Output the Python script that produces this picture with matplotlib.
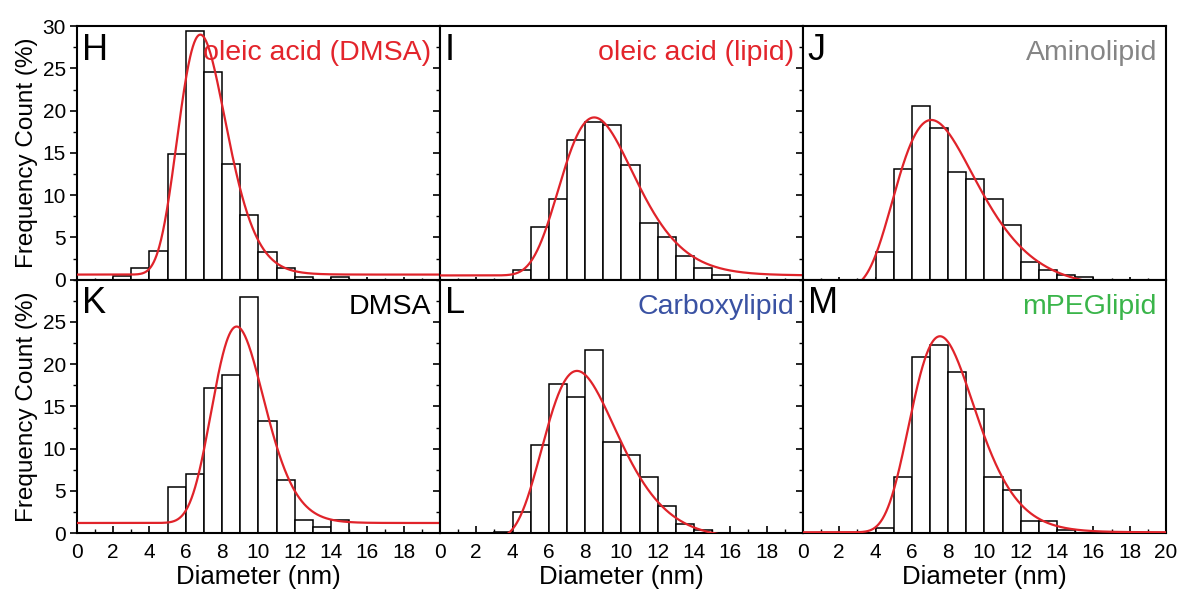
import numpy as np
import matplotlib
matplotlib.use('Agg')
import matplotlib.pyplot as plt
from matplotlib.ticker import MultipleLocator

plt.rcParams['font.family'] = ['Liberation Sans', 'DejaVu Sans']

# ------------------------------------------------------------------ #
#   histogram data: frequency count (%) per 1 nm bin, bins 0-1 ... 19-20
# ------------------------------------------------------------------ #

bin_left = np.arange(0, 20)

H_counts = [0, 0, 0.4, 1.4, 3.4, 14.9, 29.4, 24.6, 13.7, 7.6, 3.3, 1.4, 0.3, 0, 0.3, 0, 0, 0, 0, 0]
I_counts = [0, 0, 0, 0, 1.2, 6.2, 9.5, 16.5, 18.6, 18.3, 13.6, 6.7, 5.1, 2.8, 1.4, 0.5, 0, 0, 0, 0]
J_counts = [0, 0, 0, 0, 3.3, 13.1, 20.6, 17.9, 12.8, 11.9, 9.5, 6.5, 2.1, 1.2, 0.6, 0.3, 0, 0, 0, 0]
K_counts = [0, 0, 0, 0, 0, 5.5, 7.0, 17.2, 18.75, 28.0, 13.25, 6.25, 1.5, 0.75, 1.6, 0, 0, 0, 0, 0]
L_counts = [0, 0, 0, 0.15, 2.5, 10.4, 17.6, 16.1, 21.7, 10.8, 9.3, 6.7, 3.2, 1.1, 0.4, 0, 0, 0, 0, 0]
M_counts = [0, 0, 0, 0, 0.65, 6.6, 20.9, 22.3, 19.1, 14.7, 6.6, 5.1, 1.4, 1.4, 0.4, 0, 0, 0, 0, 0]

# log-normal fit parameters: centre, height, width, offset
fit_xc = [6.8, 8.5, 7.07, 8.8, 7.55, 7.55]
fit_amp = [28.4, 18.7, 19.9, 23.25, 19.9, 23.2]
fit_w = [0.195, 0.24, 0.315, 0.163, 0.267, 0.235]
fit_y0 = [0.6, 0.5, -1.0, 1.2, -0.7, 0.1]

letters = ['H', 'I', 'J', 'K', 'L', 'M']
names = ['oleic acid (DMSA)', 'oleic acid (lipid)', 'Aminolipid', 'DMSA', 'Carboxylipid', 'mPEGlipid']
name_colors = ['#e3242b', '#e3242b', '#858585', 'black', '#3a52a3', '#3ab54a']

all_counts = [H_counts, I_counts, J_counts, K_counts, L_counts, M_counts]

# ------------------------------------------------------------------ #
#                          the figure                                 #
# ------------------------------------------------------------------ #

fig, axes = plt.subplots(2, 3, figsize=(11.83, 5.95), dpi=100)
fig.subplots_adjust(left=0.065, right=0.9856, top=0.956, bottom=0.104, wspace=0, hspace=0)

xs = np.linspace(0.01, 20, 800)

for k, ax in enumerate(axes.flat):
    row, col = divmod(k, 3)
    counts = np.array(all_counts[k])
    keep = counts > 0
    ax.bar(bin_left[keep], counts[keep], width=1, align='edge', color='white',
           edgecolor='black', lw=1.1, zorder=2)

    fit = fit_y0[k] + fit_amp[k] * np.exp(-np.log(xs / fit_xc[k])**2 / (2 * fit_w[k]**2))
    ax.plot(xs, fit, color='#e0232a', lw=1.6, zorder=3)

    ax.set_xlim(0, 20)
    ax.set_ylim(0, 30)

    ax.text(0.013, 0.975, letters[k], transform=ax.transAxes, ha='left', va='top',
            fontsize=26, color='black')
    ax.text(0.975, 0.945, names[k], transform=ax.transAxes, ha='right', va='top',
            fontsize=20.5, color=name_colors[k])

    for s in ax.spines.values():
        s.set_linewidth(1.5)
    ax.xaxis.set_major_locator(MultipleLocator(2))
    ax.xaxis.set_minor_locator(MultipleLocator(1))
    if row == 0:
        ax.set_yticks(np.arange(0, 31, 5))
        ax.tick_params(axis='x', which='both', direction='inout', labelbottom=False)
    else:
        ax.set_yticks(np.arange(0, 26, 5))
        ax.tick_params(axis='x', which='both', direction='in')
        if col < 2:
            ax.set_xticks(np.arange(0, 19, 2))
        else:
            ax.set_xticks(np.arange(0, 21, 2))
        ax.set_xlabel('Diameter (nm)', fontsize=18.5, labelpad=2)
    ax.yaxis.set_minor_locator(MultipleLocator(2.5))
    ax.tick_params(axis='y', which='both', direction='out')
    ax.tick_params(which='major', length=5, width=1.2, labelsize=15)
    ax.tick_params(which='minor', length=3, width=1.0)
    ax.tick_params(axis='x', pad=7)
    ax.tick_params(axis='y', pad=3)
    if col == 0:
        ax.set_ylabel('Frequency Count (%)', fontsize=17.5, labelpad=3)
    else:
        ax.tick_params(axis='y', which='both', labelleft=False)

plt.savefig('out.png', dpi=100)
plt.close()
